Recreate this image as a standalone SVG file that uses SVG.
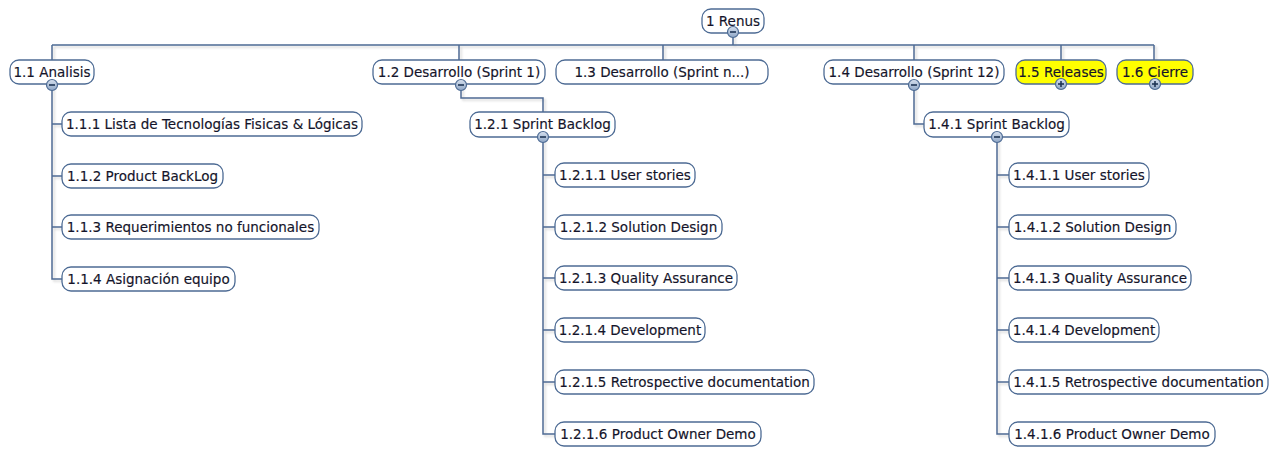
<svg xmlns="http://www.w3.org/2000/svg" width="1282" height="449" viewBox="0 0 1282 449">
  <defs>
    <filter id="shadow" x="-5%" y="-5%" width="110%" height="130%">
      <feDropShadow dx="2" dy="2" stdDeviation="1" flood-color="#8a8a8a" flood-opacity="0.35"/>
    </filter>
    <linearGradient id="knobFill" x1="0" y1="0" x2="0" y2="1">
      <stop offset="0" stop-color="#d6e0ee"/>
      <stop offset="1" stop-color="#8ea6c6"/>
    </linearGradient>
    <!-- collapse / expand toggles -->
    <g id="minus">
      <circle r="5.5" fill="url(#knobFill)" stroke="#4d6b94" stroke-width="1.2"/>
      <line x1="-3" y1="0" x2="3" y2="0" stroke="#1f3556" stroke-width="1.6"/>
    </g>
    <g id="plus">
      <circle r="5.5" fill="url(#knobFill)" stroke="#4d6b94" stroke-width="1.2"/>
      <line x1="-3" y1="0" x2="3" y2="0" stroke="#1f3556" stroke-width="1.6"/>
      <line x1="0" y1="-3" x2="0" y2="3" stroke="#1f3556" stroke-width="1.6"/>
    </g>
  </defs>
  <style>
    .box { fill: #ffffff; stroke: #4d6b94; stroke-width: 1.3; }
    .hl { fill: #ffff00; }
    .lbl { font-family: "DejaVu Sans", "Verdana", sans-serif; font-size: 13.5px; fill: #14142a; stroke: #14142a; stroke-width: 0.15; text-anchor: middle; }
    .wire { fill: none; stroke: #4d6b94; stroke-width: 1.5; }
  </style>
  <rect width="1282" height="449" fill="#ffffff"/>

  <!-- tree connectors -->
  <g id="connectors" class="wire" filter="url(#shadow)">
    <path d="M733,32 V45"/>
    <path d="M52,45 H1154"/>
    <path d="M52,45 V60 M459,45 V60 M663,45 V60 M914,45 V60 M1061,45 V60 M1154,45 V60"/>
    <!-- 1.1 children -->
    <path d="M52,85 V279 H62 M52,124 H62 M52,176 H62 M52,227 H62"/>
    <!-- 1.2 to 1.2.1 -->
    <path d="M461,85 V98 H543 V112"/>
    <!-- 1.2.1 children -->
    <path d="M543,137 V434 H555 M543,175 H555 M543,227 H555 M543,278 H555 M543,330 H555 M543,382 H555"/>
    <!-- 1.4 to 1.4.1 -->
    <path d="M914,85 V124 H924"/>
    <!-- 1.4.1 children -->
    <path d="M997,137 V434 H1009 M997,175 H1009 M997,227 H1009 M997,278 H1009 M997,330 H1009 M997,382 H1009"/>
  </g>

  <!-- root -->
  <g id="n1">
    <rect class="box" x="702" y="9" width="62" height="24" rx="9"/>
    <text class="lbl" x="733" y="25.5">1 Renus</text>
    <use href="#minus" x="733" y="32"/>
  </g>

  <!-- level 1 -->
  <g id="n1_1">
    <rect class="box" x="10" y="60" width="84" height="24" rx="9"/>
    <text class="lbl" x="52" y="76.5">1.1 Analisis</text>
    <use href="#minus" x="52" y="85"/>
  </g>
  <g id="n1_2">
    <rect class="box" x="373" y="60" width="172" height="24" rx="9"/>
    <text class="lbl" x="459" y="76.5">1.2 Desarrollo (Sprint 1)</text>
    <use href="#minus" x="461" y="85"/>
  </g>
  <g id="n1_3">
    <rect class="box" x="556" y="60" width="212" height="24" rx="9"/>
    <text class="lbl" x="662" y="76.5">1.3 Desarrollo (Sprint n...)</text>
  </g>
  <g id="n1_4">
    <rect class="box" x="824" y="60" width="180" height="24" rx="9"/>
    <text class="lbl" x="914" y="76.5">1.4 Desarrollo (Sprint 12)</text>
    <use href="#minus" x="914" y="85"/>
  </g>
  <g id="n1_5">
    <rect class="box hl" x="1016" y="60" width="90" height="24" rx="9"/>
    <text class="lbl" x="1061" y="76.5">1.5 Releases</text>
    <use href="#plus" x="1061" y="84"/>
  </g>
  <g id="n1_6">
    <rect class="box hl" x="1117" y="60" width="76" height="24" rx="9"/>
    <text class="lbl" x="1155" y="76.5">1.6 Cierre</text>
    <use href="#plus" x="1155" y="84"/>
  </g>

  <!-- 1.1 children -->
  <g id="n1_1_1">
    <rect class="box" x="62" y="112" width="300" height="24" rx="9"/>
    <text class="lbl" x="212" y="128.5">1.1.1 Lista de Tecnologías Fisicas &amp; Lógicas</text>
  </g>
  <g id="n1_1_2">
    <rect class="box" x="62" y="164" width="161" height="24" rx="9"/>
    <text class="lbl" x="142.5" y="180.5">1.1.2 Product BackLog</text>
  </g>
  <g id="n1_1_3">
    <rect class="box" x="62" y="215" width="257" height="24" rx="9"/>
    <text class="lbl" x="190.5" y="231.5">1.1.3 Requerimientos no funcionales</text>
  </g>
  <g id="n1_1_4">
    <rect class="box" x="62" y="267" width="173" height="24" rx="9"/>
    <text class="lbl" x="148.5" y="283.5">1.1.4 Asignación equipo</text>
  </g>

  <!-- 1.2.1 sprint backlog -->
  <g id="n1_2_1">
    <rect class="box" x="470" y="112" width="145" height="25" rx="9"/>
    <text class="lbl" x="542.5" y="129">1.2.1 Sprint Backlog</text>
    <use href="#minus" x="543" y="137"/>
  </g>
  <g id="n1_2_1_1">
    <rect class="box" x="555" y="163" width="140" height="24" rx="9"/>
    <text class="lbl" x="625" y="179.5">1.2.1.1 User stories</text>
  </g>
  <g id="n1_2_1_2">
    <rect class="box" x="555" y="215" width="167" height="24" rx="9"/>
    <text class="lbl" x="638.5" y="231.5">1.2.1.2 Solution Design</text>
  </g>
  <g id="n1_2_1_3">
    <rect class="box" x="555" y="266" width="182" height="24" rx="9"/>
    <text class="lbl" x="646" y="282.5">1.2.1.3 Quality Assurance</text>
  </g>
  <g id="n1_2_1_4">
    <rect class="box" x="555" y="318" width="150" height="24" rx="9"/>
    <text class="lbl" x="630" y="334.5">1.2.1.4 Development</text>
  </g>
  <g id="n1_2_1_5">
    <rect class="box" x="555" y="370" width="259" height="24" rx="9"/>
    <text class="lbl" x="684.5" y="386.5">1.2.1.5 Retrospective documentation</text>
  </g>
  <g id="n1_2_1_6">
    <rect class="box" x="555" y="422" width="206" height="24" rx="9"/>
    <text class="lbl" x="658" y="438.5">1.2.1.6 Product Owner Demo</text>
  </g>

  <!-- 1.4.1 sprint backlog -->
  <g id="n1_4_1">
    <rect class="box" x="924" y="112" width="145" height="25" rx="9"/>
    <text class="lbl" x="996.5" y="129">1.4.1 Sprint Backlog</text>
    <use href="#minus" x="997" y="137"/>
  </g>
  <g id="n1_4_1_1">
    <rect class="box" x="1009" y="163" width="140" height="24" rx="9"/>
    <text class="lbl" x="1079" y="179.5">1.4.1.1 User stories</text>
  </g>
  <g id="n1_4_1_2">
    <rect class="box" x="1009" y="215" width="167" height="24" rx="9"/>
    <text class="lbl" x="1092.5" y="231.5">1.4.1.2 Solution Design</text>
  </g>
  <g id="n1_4_1_3">
    <rect class="box" x="1009" y="266" width="182" height="24" rx="9"/>
    <text class="lbl" x="1100" y="282.5">1.4.1.3 Quality Assurance</text>
  </g>
  <g id="n1_4_1_4">
    <rect class="box" x="1009" y="318" width="150" height="24" rx="9"/>
    <text class="lbl" x="1084" y="334.5">1.4.1.4 Development</text>
  </g>
  <g id="n1_4_1_5">
    <rect class="box" x="1009" y="370" width="259" height="24" rx="9"/>
    <text class="lbl" x="1138.5" y="386.5">1.4.1.5 Retrospective documentation</text>
  </g>
  <g id="n1_4_1_6">
    <rect class="box" x="1009" y="422" width="206" height="24" rx="9"/>
    <text class="lbl" x="1112" y="438.5">1.4.1.6 Product Owner Demo</text>
  </g>
</svg>
